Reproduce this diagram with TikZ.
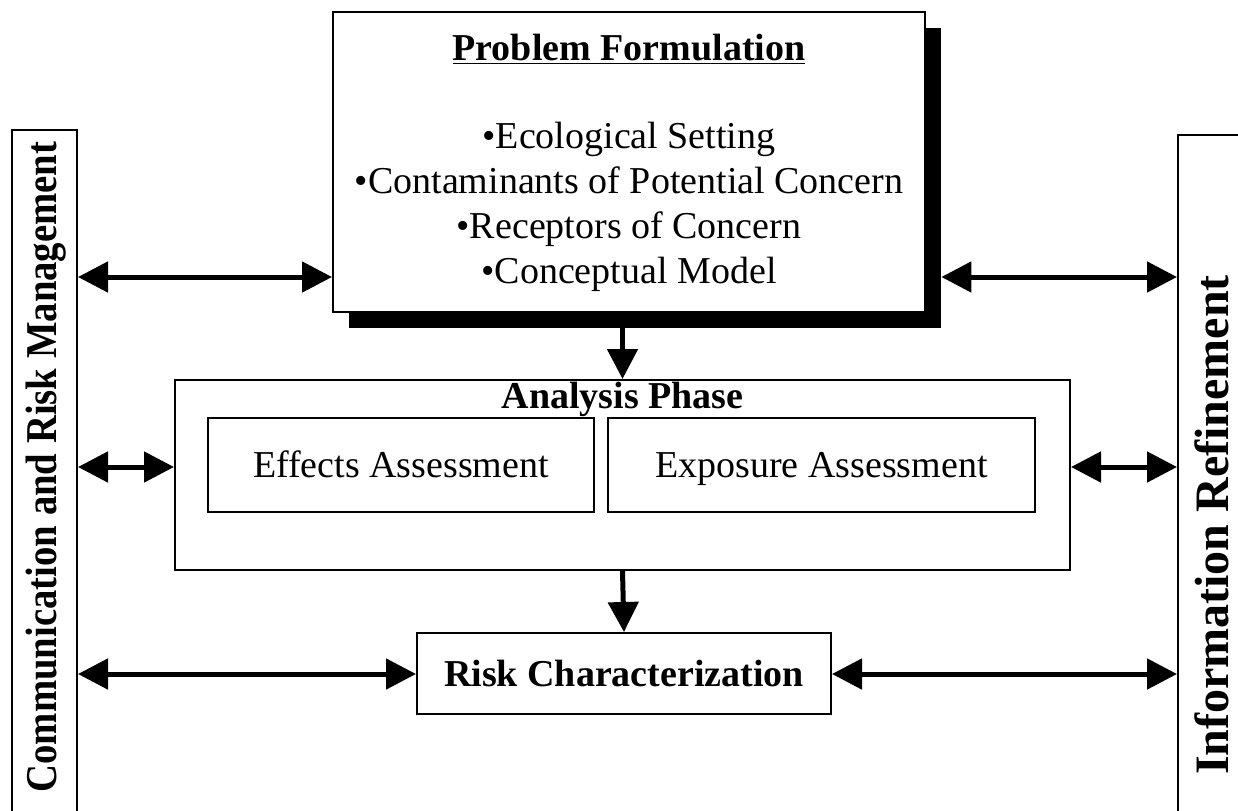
\documentclass[tikz,border=0pt]{standalone}
\usepackage{fontspec}
\setmainfont{Liberation Serif}
\usetikzlibrary{arrows.meta,positioning}

\tikzset{
  box/.style={draw, line width=1pt, inner sep=0pt},
  txt/.style={font=\fontsize{19}{22}\selectfont},
  btxt/.style={font=\fontsize{19}{22}\selectfont\bfseries},
  boxtxt/.style={text height=16pt, text depth=3.5pt},
  twoway/.style={{Triangle[length=15pt,width=15pt]}-{Triangle[length=15pt,width=15pt]}, line width=2.5pt},
  oneway/.style={-{Triangle[length=15pt,width=15pt]}, line width=2.5pt}
}

\begin{document}
\begin{tikzpicture}[x=0.5pt, y=-0.5pt]
  \useasboundingbox (0,0) rectangle (1238,810);
  \clip (0,0) rectangle (1238,810);

  % Side boxes
  \node[box, minimum width=32.5pt, minimum height=360pt] (crm) at (44.5,490) {};
  \node[rotate=90, font=\fontsize{22}{24}\selectfont\bfseries] (crmtext) at (46,467) {\scalebox{0.88}[1]{Communication and Risk Management}};
  \node[box, minimum width=56pt, minimum height=357.5pt] (ir) at (1234,492.5) {};
  \node[rotate=90, font=\fontsize{24}{26}\selectfont\bfseries] (irtext) at (1212,525) {Information Refinement};

  % Problem formulation with its shadow
  \node[fill=black, minimum width=296pt, minimum height=150pt, inner sep=0pt] (pfshadow) at (645,178) {};
  \node[box, fill=white, minimum width=296pt, minimum height=150pt] (pf) at (629,162) {};
  \node[btxt, anchor=base] (pftitle) at (629,60) {\underline{Problem Formulation}};
  \foreach \y/\name/\item in {148/pfa/Ecological Setting, 193/pfb/Contaminants of Potential Concern, 238/pfc/Receptors of Concern, 283/pfd/Conceptual Model} {
    \node[txt, anchor=base] (\name) at (629,\y) {\textbullet\item};
  }

  % Analysis phase
  \node[box, minimum width=447.5pt, minimum height=95pt] (ap) at (622.5,475) {};
  \node[btxt, anchor=base] (aptitle) at (622.5,408) {Analysis Phase};
  \node[box, txt, boxtxt, minimum width=193pt, minimum height=47pt] (effects) at (401,465) {Effects Assessment};
  \node[box, txt, boxtxt, minimum width=213.5pt, minimum height=47pt] (exposure) at (821.5,465) {Exposure Assessment};

  % Risk characterization
  \node[box, btxt, boxtxt, minimum width=207pt, minimum height=40.5pt] (rc) at (624,673.5) {Risk Characterization};

  % Rows for the side arrows
  \coordinate (row1) at (0,277);
  \coordinate (row2) at (0,467);
  \coordinate (row3) at (0,674);

  \draw[twoway] (crm.east |- row1) -- (pf.west |- row1);
  \draw[twoway] (pfshadow.east |- row1) -- (ir.west |- row1);
  \draw[twoway] (crm.east |- row2) -- (ap.west |- row2);
  \draw[twoway] (ap.east |- row2) -- (ir.west |- row2);
  \draw[twoway] (crm.east |- row3) -- (rc.west |- row3);
  \draw[twoway] (rc.east |- row3) -- (ir.west |- row3);

  % Flow downwards
  \draw[oneway] (pfshadow.south -| ap.north) -- (ap.north);
  \draw[oneway] (ap.south) -- (rc.north);
\end{tikzpicture}
\end{document}
